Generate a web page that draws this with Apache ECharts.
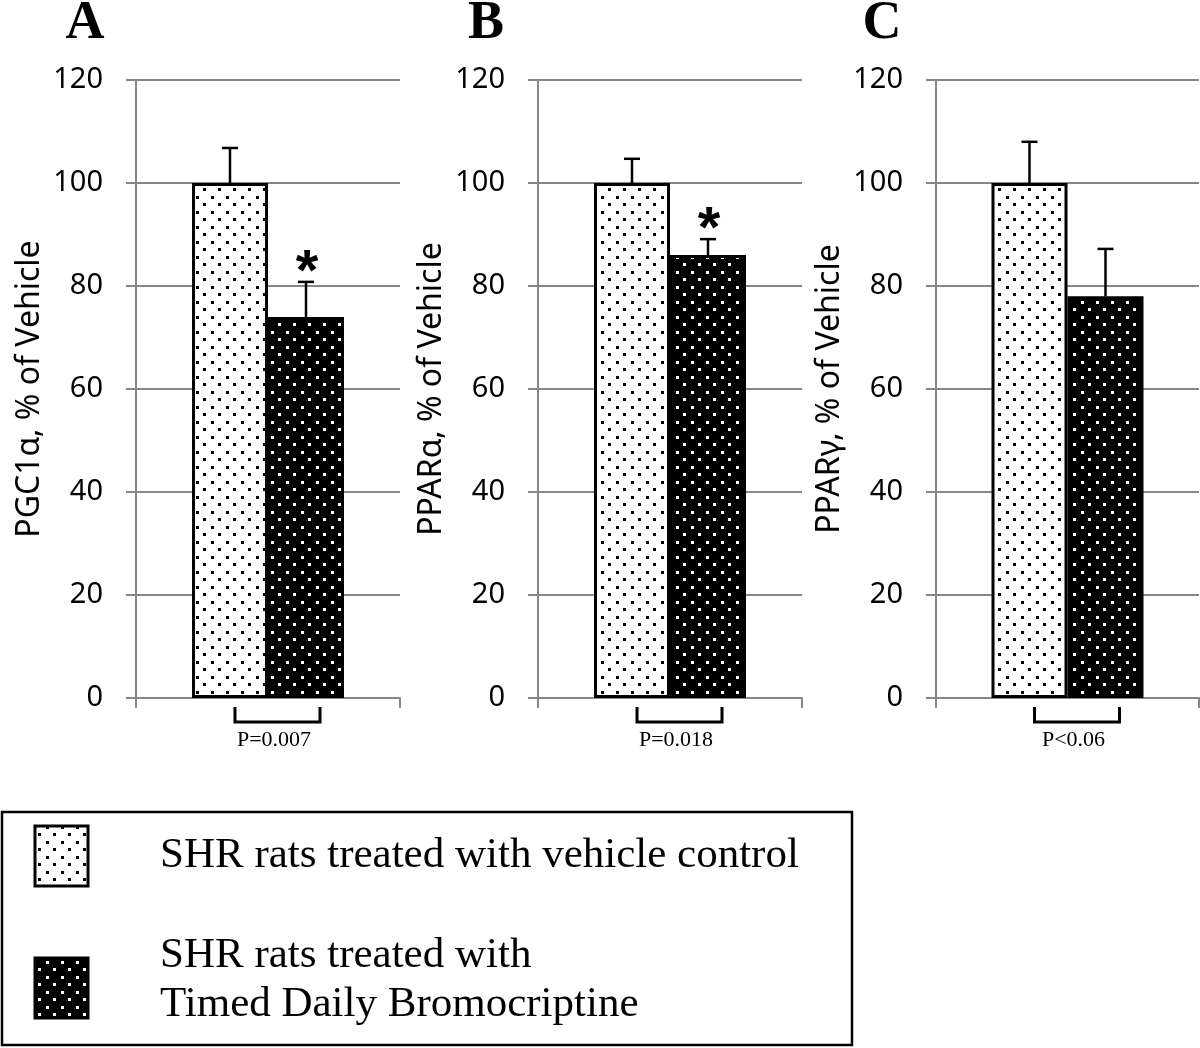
<!DOCTYPE html>
<html>
<head>
<meta charset="utf-8">
<script src="https://cdn.jsdelivr.net/npm/echarts@6/dist/echarts.min.js"></script>
<style>html,body{margin:0;padding:0;background:#fff}#c{width:1200px;height:1048px}</style>
</head>
<body>
<div id="c"></div>
<script>
// ---- data ----
const categories = ['PGC1α', 'PPARα', 'PPARγ'];
const yTitles = ['PGC1α, % of Vehicle', 'PPARα, % of Vehicle', 'PPARγ, % of Vehicle'];
const panelLetters = ['A', 'B', 'C'];
const vehicleMeans = [100, 100, 100];
const vehicleErr = [6.8, 4.7, 8.0];
const bromoMeans = [74, 86, 78];
const bromoErr = [6.8, 3.1, 9.2];
const significant = [true, true, false];
const pValues = ['P=0.007', 'P=0.018', 'P<0.06'];
const yMin = 0, yMax = 120, yStep = 20;
const legendLabels = ['SHR rats treated with vehicle control', 'SHR rats treated with\nTimed Daily Bromocriptine'];

// ---- styles ----
const GRAY = '#878787';
const gridLefts = [136, 538, 936];
const gridWidths = [264, 264, 263];
const BAR_W = 76;

function dotPattern(bg, dot) {
  const c = document.createElement('canvas');
  c.width = 15; c.height = 15;
  const g = c.getContext('2d');
  g.fillStyle = bg; g.fillRect(0, 0, 15, 15);
  g.fillStyle = dot;
  g.fillRect(1, 1, 3, 3);
  g.fillRect(8, 8, 3, 3);
  return c;
}
const whitePat = { image: dotPattern('#ffffff', '#000000'), repeat: 'repeat' };
const blackPat = { image: dotPattern('#000000', '#ffffff'), repeat: 'repeat' };

const chart = echarts.init(document.getElementById('c'), null, { renderer: 'canvas' });

const grids = [], xAxes = [], yAxes = [], series = [], graphics = [];
for (let i = 0; i < 3; i++) {
  grids.push({ left: gridLefts[i], top: 80, width: gridWidths[i], height: 618 });
  xAxes.push({
    gridIndex: i, type: 'category', data: [categories[i]],
    axisLine: { lineStyle: { color: GRAY, width: 2 } },
    axisTick: { show: true, length: 10, lineStyle: { color: GRAY, width: 2 } },
    axisLabel: { show: false }
  });
  yAxes.push({
    gridIndex: i, type: 'value', min: yMin, max: yMax, interval: yStep,
    axisLine: { show: true, lineStyle: { color: GRAY, width: 2 } },
    axisTick: { show: true, length: 10, lineStyle: { color: GRAY, width: 2 } },
    splitLine: { show: true, lineStyle: { color: GRAY, width: 2 } },
    axisLabel: { fontSize: 29, color: '#000', fontFamily: 'Noto Sans', margin: 33 },
    name: yTitles[i], nameLocation: 'middle', nameGap: 90, nameRotate: 90,
    nameTextStyle: { fontSize: 32, color: '#000', fontFamily: 'Noto Sans' }
  });
  series.push({
    type: 'bar', name: legendLabels[0], xAxisIndex: i, yAxisIndex: i,
    data: [vehicleMeans[i]], barWidth: BAR_W, barGap: '0%',
    itemStyle: { color: whitePat, borderColor: '#000', borderWidth: 3 },
    silent: true, z: 3
  });
  series.push({
    type: 'bar', name: legendLabels[1], xAxisIndex: i, yAxisIndex: i,
    data: [bromoMeans[i]], barWidth: BAR_W, barGap: '0%',
    itemStyle: { color: blackPat, borderColor: '#000', borderWidth: 3 },
    silent: true, z: 3
  });
  // error bars + asterisk
  series.push({
    type: 'custom', xAxisIndex: i, yAxisIndex: i, clip: false, z: 4, silent: true,
    data: [[0, vehicleMeans[i], vehicleErr[i], -1, 0], [0, bromoMeans[i], bromoErr[i], 1, significant[i] ? 1 : 0]],
    renderItem: function (params, api) {
      const base = api.coord([api.value(0), api.value(1)]);
      const top = api.coord([api.value(0), api.value(1) + api.value(2)]);
      const x = base[0] + api.value(3) * BAR_W / 2;
      const children = [
        { type: 'line', shape: { x1: x, y1: base[1], x2: x, y2: top[1] }, style: { stroke: '#000', lineWidth: 2.5 } },
        { type: 'line', shape: { x1: x - 8, y1: top[1], x2: x + 8, y2: top[1] }, style: { stroke: '#000', lineWidth: 2.5 } }
      ];
      if (api.value(4) === 1) {
        children.push({ type: 'text', x: x + 1, y: top[1] + 21, style: { text: '*', fill: '#000', font: 'bold 58px "Liberation Sans"', textAlign: 'center', textVerticalAlign: 'bottom' } });
      }
      return { type: 'group', children: children };
    }
  });
  // significance bracket + p value
  series.push({
    type: 'custom', xAxisIndex: i, yAxisIndex: i, clip: false, z: 4, silent: true,
    data: [[0, 0, pValues[i]]],
    renderItem: function (params, api) {
      const p = api.coord([api.value(0), api.value(1)]);
      const cx = p[0], y0 = p[1];
      return {
        type: 'group', children: [
          { type: 'polyline', shape: { points: [[cx - 33, y0 + 9], [cx - 33, y0 + 24], [cx + 52, y0 + 24], [cx + 52, y0 + 9]] }, style: { stroke: '#000', lineWidth: 3, fill: null } },
          { type: 'text', x: cx + 6, y: y0 + 42, style: { text: api.value(2), fill: '#000', font: '22px "Liberation Serif"', textAlign: 'center', textVerticalAlign: 'middle' } }
        ]
      };
    }
  });
  graphics.push({ type: 'text', x: [85, 486, 882][i], y: 24, style: { text: panelLetters[i], fill: '#000', font: 'bold 54px "Liberation Serif"', textAlign: 'center', textVerticalAlign: 'middle' } });
}

// legend box
graphics.push({ type: 'rect', shape: { x: 2, y: 812, width: 850, height: 233 }, style: { fill: '#fff', stroke: '#000', lineWidth: 2.5 }, z: 1 });
graphics.push({ type: 'rect', shape: { x: 35, y: 826, width: 53, height: 60 }, style: { fill: { type: 'pattern', image: whitePat.image, repeat: 'repeat' }, stroke: '#000', lineWidth: 3 }, z: 2 });
graphics.push({ type: 'rect', shape: { x: 35, y: 958, width: 53, height: 60 }, style: { fill: { type: 'pattern', image: blackPat.image, repeat: 'repeat' }, stroke: '#000', lineWidth: 3 }, z: 2 });
graphics.push({ type: 'text', x: 160, y: 856, style: { text: legendLabels[0], fill: '#000', font: '43px "Liberation Serif"', textVerticalAlign: 'middle' }, z: 2 });
graphics.push({ type: 'text', x: 160, y: 980, style: { text: legendLabels[1], fill: '#000', font: '43px "Liberation Serif"', textVerticalAlign: 'middle', lineHeight: 49 }, z: 2 });

chart.setOption({
  animation: false,
  backgroundColor: '#fff',
  grid: grids, xAxis: xAxes, yAxis: yAxes, series: series,
  graphic: graphics
});
</script>
</body>
</html>
